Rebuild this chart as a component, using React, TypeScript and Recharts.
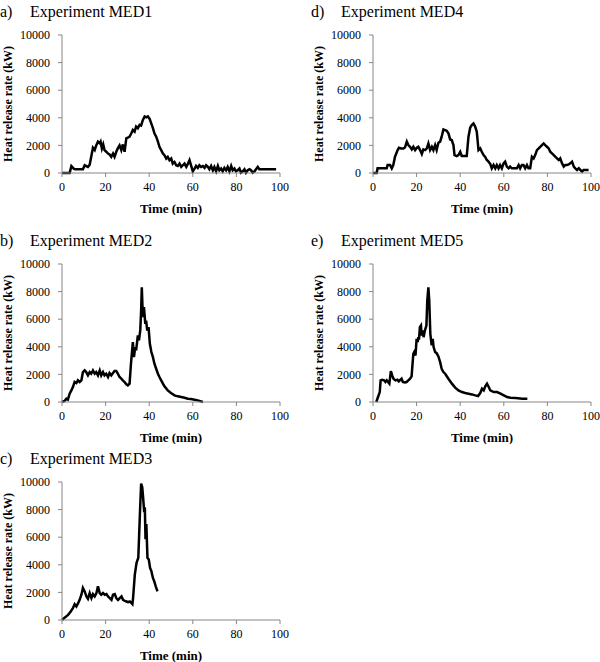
import { LineChart, Line, XAxis, YAxis, Label } from 'recharts';

const FONT = '"Liberation Serif", "Times New Roman", serif';
const AXIS = '#868686';

const timeTicks = [0, 20, 40, 60, 80, 100];
const hrrTicks = [0, 2000, 4000, 6000, 8000, 10000];

// [time (min), heat release rate (kW)]
const med1: [number, number][] = [
  [0, 0], [3.5, 0], [4.3, 500], [5.5, 300], [6, 270], [9.6, 270], [10.4, 560], [11.9, 440], [12.7, 600],
  [13.4, 1170], [14.2, 1830], [15, 1660], [15.7, 2000], [16.5, 2270], [17.3, 2150], [17.7, 2270], [18.3, 1780],
  [18.9, 2070], [19.5, 1660], [20.3, 1540], [21.1, 1410], [21.8, 1340], [22.6, 1170], [23.4, 1410], [24.1, 1170],
  [24.9, 1540], [25.6, 1780], [26.4, 2000], [27.2, 1660], [27.9, 2070], [28.7, 1540], [29.5, 2510], [30.2, 2560],
  [31, 2630], [31.8, 2880], [32.5, 3120], [33.3, 3000], [34, 3370], [34.8, 3250], [35.6, 3490], [36.3, 3440],
  [37.1, 3850], [37.9, 4100], [38.6, 4030], [39.4, 4100], [40.2, 3930], [40.9, 3610], [41.7, 3250], [42.4, 2880],
  [43.2, 2630], [44, 2270], [44.7, 1900], [45.5, 1660], [46.3, 1410], [47, 1290], [47.8, 1050], [48.5, 1170],
  [49.3, 930], [50.1, 1050], [50.8, 680], [51.6, 800], [52.4, 560], [53.1, 510], [53.9, 680], [54.7, 440],
  [55.4, 560], [56.2, 680], [57, 440], [57.8, 680], [58.5, 930], [59.2, 560], [60, 120], [60.8, 320], [61.5, 510],
  [62.3, 370], [63, 560], [63.8, 440], [64.6, 510], [65.4, 370], [66.1, 560], [66.9, 440], [67.6, 270], [68.4, 510],
  [69.2, 200], [69.9, 440], [70.7, 120], [71.5, 510], [72.2, 200], [73, 320], [73.7, 120], [74.5, 370], [75.3, 200],
  [76, 440], [76.8, 120], [77.6, 510], [78.3, 200], [79.1, 320], [79.8, 120], [80.6, 200], [81.4, 320], [82.1, 20],
  [82.9, 120], [83.7, 270], [84.4, 20], [85.2, 200], [86, 270], [86.7, 200], [87.5, 20], [88.3, 120], [89, 270],
  [89.8, 440], [90.5, 270], [98.2, 280],
];

const med2: [number, number][] = [
  [0, 0], [1.2, 70], [2, 240], [2.7, 170], [3.5, 600], [4.3, 840], [5, 1080], [5.8, 1450], [6.6, 1370], [7.3, 1570],
  [8.1, 1450], [8.9, 1570], [9.6, 2170], [10.4, 2290], [11.1, 2170], [11.9, 1930], [12.7, 2170], [13.4, 2050],
  [14.2, 2290], [15, 2050], [15.7, 2170], [16.5, 1930], [17.3, 2290], [18, 1930], [18.8, 2170], [19.5, 1930],
  [20.3, 2050], [21.1, 1810], [21.8, 2100], [22.6, 1930], [23.4, 2100], [24.1, 2240], [24.9, 2240], [25.6, 2050],
  [26.4, 1810], [27.2, 1690], [27.9, 1570], [28.7, 1450], [29.5, 1280], [30.2, 1200], [31, 1330], [31.6, 2700],
  [32.5, 4340], [33, 3250], [33.6, 3980], [34, 3740], [34.8, 4820], [35.3, 4460], [35.9, 5180], [36.3, 6630],
  [36.6, 8310], [37.1, 6150], [37.6, 6870], [38.2, 5660], [38.6, 5900], [39.1, 5180], [39.7, 5420], [40.3, 4220],
  [41, 3620], [41.7, 3250], [42.4, 2770], [43.2, 2410], [44, 2050], [44.7, 1810], [45.5, 1570], [46.3, 1330],
  [47, 1130], [48.5, 840], [50, 650], [51.6, 480], [53.1, 410], [54.7, 360], [56.2, 310], [57.7, 240], [59.2, 220],
  [60.8, 170], [62.3, 120], [63.8, 50], [64.6, 0],
];

const med3: [number, number][] = [
  [0, 0], [1.2, 170], [2.8, 370], [4, 610], [5, 850], [5.8, 1150], [6.6, 980], [7.4, 1220], [8.1, 1460], [8.9, 1830],
  [9.6, 2320], [10.4, 2070], [11.2, 1710], [11.9, 1540], [12.7, 1950], [13.5, 1590], [14.2, 1880], [15, 1710],
  [15.8, 1950], [16.5, 2440], [17.3, 1950], [18, 1830], [18.8, 1950], [19.6, 1830], [20.4, 1880], [21.1, 1710],
  [21.9, 1590], [22.7, 1460], [23.4, 1830], [24.2, 1880], [24.9, 1590], [25.7, 1460], [26.5, 1590], [27.3, 1710],
  [28, 1460], [28.8, 1390], [29.6, 1340], [30.3, 1290], [31.1, 1340], [31.9, 1220], [32.3, 1150], [32.6, 1590],
  [33.4, 3290], [34.2, 4150], [35, 4510], [35.4, 6220], [35.8, 7930], [36.3, 9880], [36.8, 9640], [37.2, 8910],
  [37.7, 7810], [38, 8170], [38.3, 5860], [38.7, 6950], [39.2, 4510], [39.8, 4390], [40.4, 3780], [41, 3540],
  [41.7, 3050], [42.3, 2810], [43, 2440], [43.8, 2070],
];

const med4: [number, number][] = [
  [0, 0], [1.7, 0], [2.1, 340], [6.3, 340], [6.7, 580], [7.8, 580], [8.6, 340], [9.3, 580], [10.1, 1180],
  [11.3, 1660], [11.9, 1830], [12.9, 1780], [14, 1780], [14.7, 1860], [15.5, 2270], [16.2, 2020], [17, 1900],
  [17.8, 1710], [18.5, 1900], [19.3, 1660], [20.1, 1830], [20.8, 1900], [21.6, 1660], [22.4, 1370], [23.1, 1710],
  [23.9, 1660], [24.7, 1780], [25.4, 2140], [26.2, 1660], [27, 1900], [27.7, 1660], [28.5, 2020], [29.2, 1660],
  [30, 2190], [30.8, 2270], [31.5, 2630], [32.3, 3160], [33.1, 3110], [33.8, 3060], [34.6, 2870], [35.4, 2430],
  [36.1, 2390], [36.9, 2020], [37.4, 1300], [38.4, 1230], [39.2, 1300], [40, 1540], [40.7, 1230], [43, 1230],
  [43.8, 2630], [44.6, 3300], [45.3, 3470], [46.1, 3590], [46.9, 3350], [47.6, 2990], [48.4, 1660], [49.2, 1780],
  [49.9, 1540], [50.7, 1300], [51.4, 1180], [52.2, 940], [53, 820], [53.8, 650], [54.5, 340], [55.3, 580],
  [56.1, 340], [56.8, 580], [57.6, 340], [58.3, 580], [59.1, 340], [59.9, 700], [60.6, 820], [61.4, 460],
  [62.2, 340], [62.9, 460], [63.7, 340], [66, 340], [66.8, 580], [67.5, 340], [68.3, 580], [69, 580], [69.8, 340],
  [70.6, 580], [71.3, 340], [72.1, 340], [72.9, 1180], [73.7, 1060], [74.4, 1300], [75.2, 1660], [76, 1780],
  [76.7, 1900], [77.5, 2020], [78.3, 2140], [79, 2020], [79.8, 1900], [80.6, 1780], [81.3, 1540], [82.1, 1420],
  [82.9, 1300], [83.6, 1180], [84.4, 1060], [85.2, 940], [85.9, 1060], [86.7, 700], [87.5, 460], [88.2, 580],
  [89, 580], [89.8, 630], [90.5, 700], [91.3, 820], [92.1, 460], [92.8, 340], [93.6, 220], [94.4, 340], [95.9, 100],
  [96.6, 220], [98.9, 220],
];

const med5: [number, number][] = [
  [1.5, 0], [2.3, 360], [3.1, 720], [3.5, 1570], [4.2, 1610], [5.1, 1570], [5.7, 1450], [6.3, 1570], [6.9, 1450],
  [7.5, 1330], [8.2, 2240], [8.8, 1930], [9.4, 1690], [10.3, 1570], [11.2, 1610], [11.8, 1490], [12.5, 1610],
  [13.1, 1690], [13.7, 1450], [14.6, 1420], [15.4, 1450], [16.2, 1570], [17, 1690], [17.7, 1860], [18.5, 3490],
  [18.9, 3620], [19.5, 3370], [20, 4580], [20.5, 4340], [20.8, 4700], [21.1, 4510], [21.5, 5420], [22, 5540],
  [22.3, 4820], [22.8, 5180], [23.2, 4700], [23.8, 5180], [24.5, 5540], [24.9, 7350], [25.4, 8310], [25.8, 7350],
  [26.3, 4940], [26.9, 4100], [27.4, 4580], [27.8, 3980], [28.5, 3620], [29.2, 3540], [30, 3300], [30.8, 2890],
  [31.5, 2410], [32.3, 2170], [33.1, 2050], [34.6, 1690], [36.2, 1330], [37.7, 1040], [39.2, 840], [40.8, 720],
  [42.3, 650], [43.8, 600], [45.4, 550], [46.9, 480], [48.2, 430], [49.2, 650], [50, 960], [50.8, 840], [51.5, 1130],
  [52.3, 1330], [53.1, 1090], [53.8, 840], [55.4, 720], [56.9, 720], [58.5, 600], [60, 480], [61.5, 360],
  [63.1, 310], [65.4, 290], [68.5, 240], [70.8, 240],
];

const panels = [
  { tag: 'a)', name: 'Experiment MED1', series: med1, left: 0, top: 0 },
  { tag: 'd)', name: 'Experiment MED4', series: med4, left: 311, top: 0 },
  { tag: 'b)', name: 'Experiment MED2', series: med2, left: 0, top: 229 },
  { tag: 'e)', name: 'Experiment MED5', series: med5, left: 311, top: 229 },
  { tag: 'c)', name: 'Experiment MED3', series: med3, left: 0, top: 447 },
];

const tickStyle = { fill: '#000', fontSize: 12, fontFamily: FONT };
const labelStyle = { fill: '#000', fontSize: 13, fontWeight: 'bold', fontFamily: FONT };
const titleStyle = {
  position: 'absolute' as const,
  top: 2,
  fontFamily: FONT,
  fontSize: 16,
  lineHeight: '20px',
  whiteSpace: 'nowrap' as const,
  color: '#000',
};

function Panel({ tag, name, series, left, top }: (typeof panels)[number]) {
  const rows = series.map(([t, q]) => ({ t, q }));
  return (
    <div style={{ position: 'absolute', left, top, width: 300, height: 215 }}>
      <div style={{ ...titleStyle, left: 0 }}>{tag}</div>
      <div style={{ ...titleStyle, left: 30 }}>{name}</div>
      <LineChart width={300} height={215} data={rows} margin={{ top: 35, right: 20, bottom: 0, left: 7 }}>
        <XAxis
          dataKey="t"
          type="number"
          domain={[0, 100]}
          ticks={timeTicks}
          interval={0}
          height={42}
          stroke={AXIS}
          tickSize={4}
          tickMargin={5}
          tick={tickStyle}
        >
          <Label value="Time (min)" position="insideBottom" offset={2} style={labelStyle} />
        </XAxis>
        <YAxis
          type="number"
          domain={[0, 10000]}
          ticks={hrrTicks}
          interval={0}
          width={55}
          stroke={AXIS}
          tickSize={4}
          tickMargin={8}
          tick={tickStyle}
        >
          <Label
            value="Heat release rate (kW)"
            angle={-90}
            position="insideLeft"
            offset={1}
            style={{ ...labelStyle, fontSize: 12, textAnchor: 'middle' }}
          />
        </YAxis>
        <Line
          dataKey="q"
          type="linear"
          stroke="#000"
          strokeWidth={2.5}
          dot={false}
          isAnimationActive={false}
        />
      </LineChart>
    </div>
  );
}

export default function App() {
  return (
    <div
      style={{
        position: 'absolute',
        left: 0,
        top: 0,
        width: 600,
        height: 662,
        background: '#fff',
        overflow: 'hidden',
      }}
    >
      {panels.map((p) => (
        <Panel key={p.tag} {...p} />
      ))}
    </div>
  );
}
